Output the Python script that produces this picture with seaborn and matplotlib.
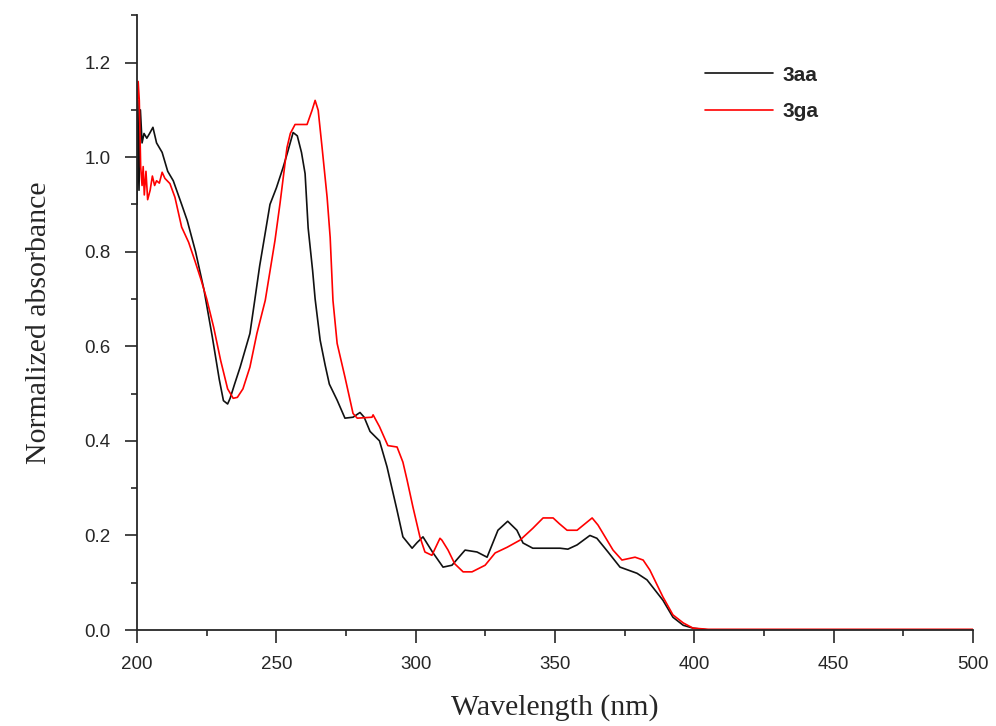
import numpy as np
import pandas as pd
import seaborn as sns
import matplotlib.pyplot as plt
from matplotlib.ticker import MultipleLocator

# 3aa - black curve
wl_3aa = [200, 200.3, 200.7, 201.2, 201.8, 202.5, 203.5, 204.5, 205.7, 207, 209, 211, 213, 216, 218, 221, 224,
          227, 229.5, 231, 232.5, 233.4, 235, 237, 240.5, 242.3, 244, 246, 247.7, 250, 252.4, 254, 256, 257.5,
          259, 260.3, 261.4, 263, 263.9, 265.7, 267.5, 269, 271.8, 274.6, 277.5, 280, 281.5, 283.6, 287, 289.7,
          293.3, 295.4, 298.7, 300.5, 302.6, 306, 309.8, 313, 317.7, 322, 325.6, 329.5, 333, 336.3, 338.5, 342,
          347, 351.8, 354.6, 357.9, 362.5, 365, 369, 373.3, 379.4, 383, 388.7, 392.3, 396, 399.5, 405, 420, 440,
          460, 480, 500]
abs_3aa = [0.90, 1.12, 0.93, 1.10, 1.03, 1.05, 1.04, 1.05, 1.063, 1.03, 1.01, 0.97, 0.95, 0.90, 0.866, 0.80, 0.72,
           0.62, 0.53, 0.485, 0.478, 0.49, 0.52, 0.556, 0.627, 0.70, 0.77, 0.84, 0.90, 0.935, 0.978, 1.01, 1.052,
           1.045, 1.01, 0.965, 0.85, 0.76, 0.70, 0.613, 0.56, 0.52, 0.486, 0.448, 0.45, 0.46, 0.45, 0.42, 0.40,
           0.345, 0.253, 0.197, 0.173, 0.185, 0.197, 0.165, 0.133, 0.137, 0.169, 0.165, 0.154, 0.211, 0.23, 0.211,
           0.184, 0.173, 0.173, 0.173, 0.171, 0.18, 0.20, 0.194, 0.165, 0.133, 0.12, 0.106, 0.063, 0.027, 0.01,
           0.004, 0.0, 0.0, 0.0, 0.0, 0.0, 0.0]

# 3ga - red curve
wl_3ga = [200, 200.4, 200.8, 201.3, 201.8, 202.2, 202.6, 203.2, 203.8, 204.7, 205.5, 206.3, 207, 208, 209, 210,
          211.8, 213.6, 216, 218.5, 220.8, 223, 225, 227.5, 230, 232.5, 234.5, 236, 238, 240.5, 243, 246, 249.5,
          251.3, 253.8, 255, 256.7, 261, 262.8, 263.9, 265, 266.4, 268.2, 269.3, 270.3, 271.8, 274.6, 277.5, 279,
          284.3, 284.7, 287, 290, 293.3, 295.4, 296.9, 299, 301.5, 303.3, 305.8, 308.7, 309.4, 311.6, 314, 317,
          320.2, 324.9, 328.5, 332.8, 337.4, 342, 345.7, 349.3, 351.5, 354.3, 357.9, 363.3, 365.4, 370.8, 374,
          378.7, 381.6, 384, 388.7, 392.3, 396, 399.5, 405, 420, 440, 460, 480, 500]
abs_3ga = [1.10, 1.16, 1.12, 0.98, 0.94, 0.98, 0.92, 0.97, 0.91, 0.93, 0.96, 0.94, 0.95, 0.945, 0.968, 0.955,
           0.944, 0.915, 0.852, 0.82, 0.78, 0.74, 0.70, 0.64, 0.57, 0.51, 0.49, 0.492, 0.51, 0.556, 0.627, 0.697,
           0.824, 0.902, 1.02, 1.05, 1.069, 1.069, 1.099, 1.12, 1.099, 1.02, 0.915, 0.83, 0.697, 0.606, 0.535,
           0.458, 0.448, 0.45, 0.455, 0.43, 0.39, 0.387, 0.355, 0.317, 0.26, 0.197, 0.165, 0.158, 0.194, 0.19,
           0.169, 0.14, 0.123, 0.123, 0.137, 0.163, 0.175, 0.19, 0.215, 0.237, 0.237, 0.225, 0.211, 0.211, 0.237,
           0.222, 0.169, 0.148, 0.154, 0.148, 0.127, 0.07, 0.032, 0.015, 0.004, 0.0015, 0.0015, 0.0015, 0.0015,
           0.0015, 0.0015]

df = pd.concat([
    pd.DataFrame({'wl': wl_3aa, 'abs': abs_3aa, 'sample': '3aa'}),
    pd.DataFrame({'wl': wl_3ga, 'abs': abs_3ga, 'sample': '3ga'}),
])

sns.set_style('ticks')
plt.rcParams['font.family'] = ['Liberation Sans', 'DejaVu Sans']

fig = plt.figure(figsize=(9.96, 7.26), dpi=100)
ax = fig.add_axes([0.1376, 0.1322, 0.8394, 0.8468])

sns.lineplot(data=df, x='wl', y='abs', hue='sample', palette={'3aa': '#111111', '3ga': '#ff0000'},
             estimator=None, sort=False, linewidth=1.2, ax=ax)

ax.set_xlim(200, 500)
ax.set_ylim(0, 1.3)
ax.xaxis.set_major_locator(MultipleLocator(50))
ax.xaxis.set_minor_locator(MultipleLocator(25))
ax.yaxis.set_major_locator(MultipleLocator(0.2))
ax.yaxis.set_minor_locator(MultipleLocator(0.1))
ax.yaxis.set_major_formatter(plt.FuncFormatter(lambda v, p: f'{v:.1f}'))
ax.tick_params(which='major', length=9, width=1.2, direction='out', labelsize=13.5, pad=10)
ax.tick_params(which='minor', length=4.5, width=1.2, direction='out')
sns.despine(ax=ax)
for s in ['left', 'bottom']:
    ax.spines[s].set_linewidth(1.3)

ax.set_xlabel('Wavelength (nm)', family='Liberation Serif', fontsize=21.5, labelpad=15)
ax.set_ylabel('Normalized absorbance', family='Liberation Serif', fontsize=21.5, labelpad=23)

leg = ax.legend(loc='upper left', bbox_to_anchor=(0.6665, 0.935), frameon=False, borderpad=0,
                handlelength=3.3, handletextpad=0.45, labelspacing=0.84,
                prop={'family': 'Liberation Sans', 'weight': 'bold', 'size': 15})
for line in leg.get_lines():
    line.set_linewidth(1.2)

fig.savefig('out.png', dpi=100)
